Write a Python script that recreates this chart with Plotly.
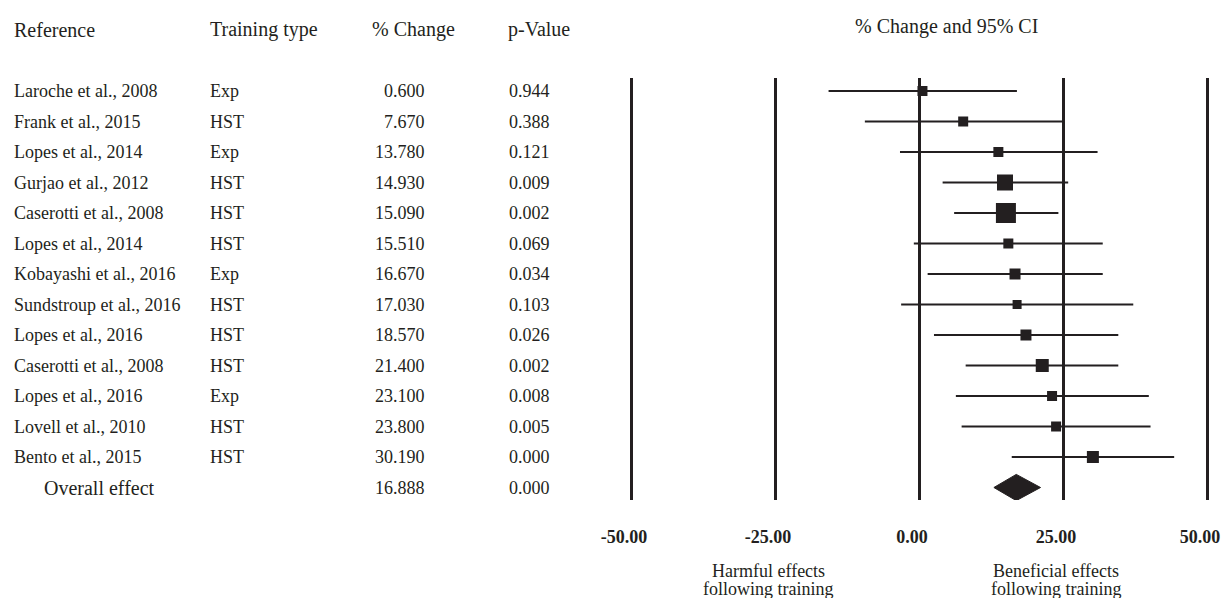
import plotly.graph_objects as go

# ---------------- data ----------------
studies = ["Laroche et al., 2008", "Frank et al., 2015", "Lopes et al., 2014",
           "Gurjao et al., 2012", "Caserotti et al., 2008", "Lopes et al., 2014",
           "Kobayashi et al., 2016", "Sundstroup et al., 2016", "Lopes et al., 2016",
           "Caserotti et al., 2008", "Lopes et al., 2016", "Lovell et al., 2010",
           "Bento et al., 2015"]
training = ["Exp", "HST", "Exp", "HST", "HST", "HST", "Exp", "HST", "HST",
            "HST", "Exp", "HST", "HST"]
pct_change = [0.600, 7.670, 13.780, 14.930, 15.090, 15.510, 16.670, 17.030,
              18.570, 21.400, 23.100, 23.800, 30.190]
p_values = [0.944, 0.388, 0.121, 0.009, 0.002, 0.069, 0.034, 0.103, 0.026,
            0.002, 0.008, 0.005, 0.000]
ci_low = [-15.7, -9.4, -3.3, 4.1, 6.1, -0.9, 1.5, -3.1, 2.6, 8.1, 6.4, 7.4, 16.1]
ci_high = [17.0, 25.0, 31.0, 25.9, 24.2, 31.9, 31.9, 37.2, 34.6, 34.6, 39.9, 40.2, 44.3]
weights = [10, 10, 10, 16, 20, 10, 11, 9, 11, 13, 10, 10, 12]  # relative box sizes

overall_label = "Overall effect"
overall_est = 16.888
overall_p = 0.000
overall_low = 13.0
overall_high = 21.1

x_ticks = [-50, -25, 0, 25, 50]
headers = ["Reference", "Training type", "% Change", "p-Value"]
plot_title = "% Change and 95% CI"
left_note = ["Harmful effects", "following training"]
right_note = ["Beneficial effects", "following training"]

# ---------------- styling ----------------
FONT = "Liberation Serif, Times New Roman, serif"
INK = "#231f20"
W, H = 1221, 598

rows = list(range(1, len(studies) + 1))
overall_row = len(studies) + 1


def px_x(p):
    return p / W


def px_y(p):
    return (H - p) / H


fig = go.Figure()

# study estimates with 95% CI
fig.add_trace(go.Scatter(
    x=pct_change, y=rows, mode="markers",
    marker=dict(symbol="square", size=weights, color=INK, opacity=1,
                line=dict(width=0)),
    error_x=dict(type="data", symmetric=False,
                 array=[h - p for h, p in zip(ci_high, pct_change)],
                 arrayminus=[p - l for l, p in zip(ci_low, pct_change)],
                 color=INK, thickness=2, width=0),
    hoverinfo="skip",
))

# overall diamond
dh = 0.43
fig.add_trace(go.Scatter(
    x=[overall_low, overall_est, overall_high, overall_est, overall_low],
    y=[overall_row, overall_row - dh, overall_row, overall_row + dh, overall_row],
    mode="lines", fill="toself", fillcolor=INK, line=dict(color=INK, width=1),
    hoverinfo="skip",
))

annotations = []


def txt(text, x, y, xref="paper", yref="y", xanchor="left", size=18,
        yanchor="middle", xshift=0, yshift=0, bold=False):
    annotations.append(dict(
        text=text, x=x, y=y, xref=xref, yref=yref, xanchor=xanchor,
        yanchor=yanchor, showarrow=False, xshift=xshift, yshift=yshift,
        font=dict(family=FONT, size=size, color=INK,
                  weight="bold" if bold else "normal")))


# headers
hdr_y = px_y(30)
txt(headers[0], px_x(12), hdr_y, yref="paper", size=20)
txt(headers[1], px_x(208), hdr_y, yref="paper", size=20)
txt(headers[2], px_x(370), hdr_y, yref="paper", size=20)
txt(headers[3], px_x(506), hdr_y, yref="paper", size=20)
txt(plot_title, px_x(946), px_y(27), yref="paper", xanchor="center", size=20)

# table rows
for r, s, t, c, p in zip(rows, studies, training, pct_change, p_values):
    txt(s, px_x(12), r)
    txt(t, px_x(208), r)
    txt(f"{c:.3f}", px_x(427), r, xanchor="right")
    txt(f"{p:.3f}", px_x(507), r)

txt(overall_label, px_x(42), overall_row, size=20)
txt(f"{overall_est:.3f}", px_x(427), overall_row, xanchor="right")
txt(f"{overall_p:.3f}", px_x(507), overall_row)

# bottom notes
txt(left_note[0], -25, px_y(571), xref="x", yref="paper", xanchor="center", xshift=-7)
txt(left_note[1], -25, px_y(589), xref="x", yref="paper", xanchor="center", xshift=-7)
txt(right_note[0], 25, px_y(571), xref="x", yref="paper", xanchor="center", xshift=-7)
txt(right_note[1], 25, px_y(589), xref="x", yref="paper", xanchor="center", xshift=-7)

# axis geometry: -50 -> 631px, 50 -> 1207px
ppu = (1207 - 631) / 100.0
x0_px = 631 - 2 * ppu
x1_px = 1207 + 2 * ppu
row_sp = 30.5
top_px, bot_px, row1_px = 78, 500, 91

fig.update_layout(
    width=W, height=H,
    margin=dict(l=0, r=0, t=0, b=0, autoexpand=False),
    paper_bgcolor="white", plot_bgcolor="white",
    showlegend=False,
    annotations=annotations,
    xaxis=dict(
        domain=[x0_px / W, x1_px / W], range=[-52, 52],
        tickvals=x_ticks, ticktext=[f"{v:.2f}" for v in x_ticks],
        showgrid=True, gridcolor=INK, gridwidth=2.5,
        zeroline=False, showline=False, ticks="", automargin=False,
        tickfont=dict(family=FONT, size=18, color=INK, weight="bold"),
        ticklabelstandoff=24, ticklabelshift=-7, ticklabeloverflow="allow",
        fixedrange=True,
    ),
    yaxis=dict(
        domain=[px_y(bot_px), px_y(top_px)],
        range=[1 + (bot_px - row1_px) / row_sp, 1 - (row1_px - top_px) / row_sp],
        showgrid=False, zeroline=False, showticklabels=False, showline=False,
        ticks="", fixedrange=True, automargin=False,
    ),
)

fig.write_html(
    "out.html",
    config={"displayModeBar": False},
    post_script="document.body.style.margin='0';document.body.style.overflow='hidden';",
)
